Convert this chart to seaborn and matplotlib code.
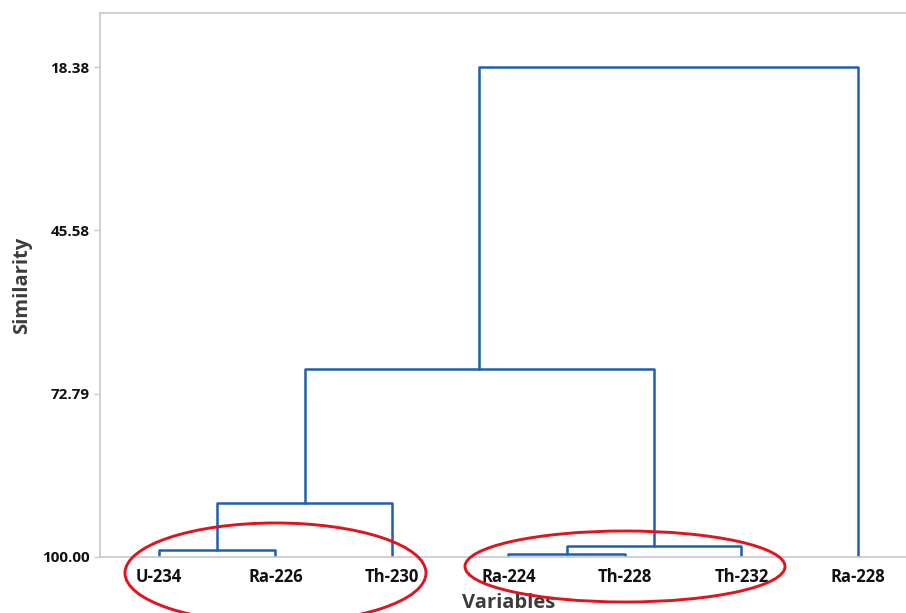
import matplotlib
matplotlib.use("Agg")
import matplotlib.pyplot as plt
from matplotlib.patches import Ellipse
import numpy as np
import pandas as pd
import seaborn as sns

# Leaves of the dendrogram, in display order
variables = ["U-234", "Ra-226", "Th-230", "Ra-224", "Th-228", "Th-232", "Ra-228"]

# Agglomeration steps: (left node, right node, similarity level)
# Nodes 0-6 are the leaves; each merge creates the next node id (7, 8, ...)
merge_left = [3, 0, 7, 8, 10, 11]
merge_right = [4, 1, 5, 2, 9, 6]
merge_similarity = [99.55, 98.83, 98.17, 91.00, 68.68, 18.38]

# Similarity axis ticks
sim_ticks = [18.38, 45.58, 72.79, 100.00]

# Build the link paths of the dendrogram
n = len(variables)
pos = {i: float(i) for i in range(n)}
height = {i: 100.0 for i in range(n)}
rows = []
for k, (a, b, s) in enumerate(zip(merge_left, merge_right, merge_similarity)):
    node = n + k
    xa, xb = pos[a], pos[b]
    pts = [(xa, height[a]), (xa, s), (xb, s), (xb, height[b])]
    for j, (px, py) in enumerate(pts):
        rows.append({"link": k, "order": j, "x": px, "y": py})
    pos[node] = (xa + xb) / 2.0
    height[node] = s
links = pd.DataFrame(rows)

sns.set_theme(style="white")
plt.rcParams["font.family"] = ["Open Sans", "DejaVu Sans"]

W, H = 906, 613
fig = plt.figure(figsize=(W / 100, H / 100), dpi=100)
ax = fig.add_axes([100 / W, 1 - 557 / H, 806 / W, 544 / H])

sns.lineplot(data=links, x="x", y="y", units="link", estimator=None,
             sort=False, color="#2060B0", linewidth=1.8, ax=ax)

ax.set_xlim(-0.506, 6.412)
ax.set_ylim(100.0, 9.38)

ax.set_xticks(range(n))
ax.set_xticklabels(variables, fontsize=12, fontweight="bold", color="#111111")
ax.set_yticks(sim_ticks)
ax.set_yticklabels([f"{t:.2f}" for t in sim_ticks], fontsize=11,
                   fontweight="bold", color="#111111")
ax.tick_params(axis="x", length=0, pad=8)
ax.tick_params(axis="y", length=4, width=1, color="#C8C8C8", pad=3.5, left=True)

for side in ["left", "top", "bottom"]:
    ax.spines[side].set_visible(True)
    ax.spines[side].set_color("#C8C8C8")
    ax.spines[side].set_linewidth(1.2)
ax.spines["right"].set_visible(False)

ax.set_xlabel("Variables", fontsize=14.5, fontweight="bold", color="#3C3C3C")
ax.set_ylabel("Similarity", fontsize=14.5, fontweight="bold", color="#3C3C3C")
ax.xaxis.set_label_coords(0.5074, -0.066)
ax.yaxis.set_label_coords(-0.0844, 0.5)

# Highlight the two groups of clustered variables
for cx, cy, hw, hh in [(275.5, 573, 150.5, 50), (625, 566.5, 160, 35.5)]:
    e = Ellipse((cx / W, 1 - cy / H), 2 * hw / W, 2 * hh / H,
                transform=fig.transFigure, fill=False,
                edgecolor="#E0141E", linewidth=2.1, clip_on=False)
    fig.add_artist(e)

fig.savefig("out.png", dpi=100)
